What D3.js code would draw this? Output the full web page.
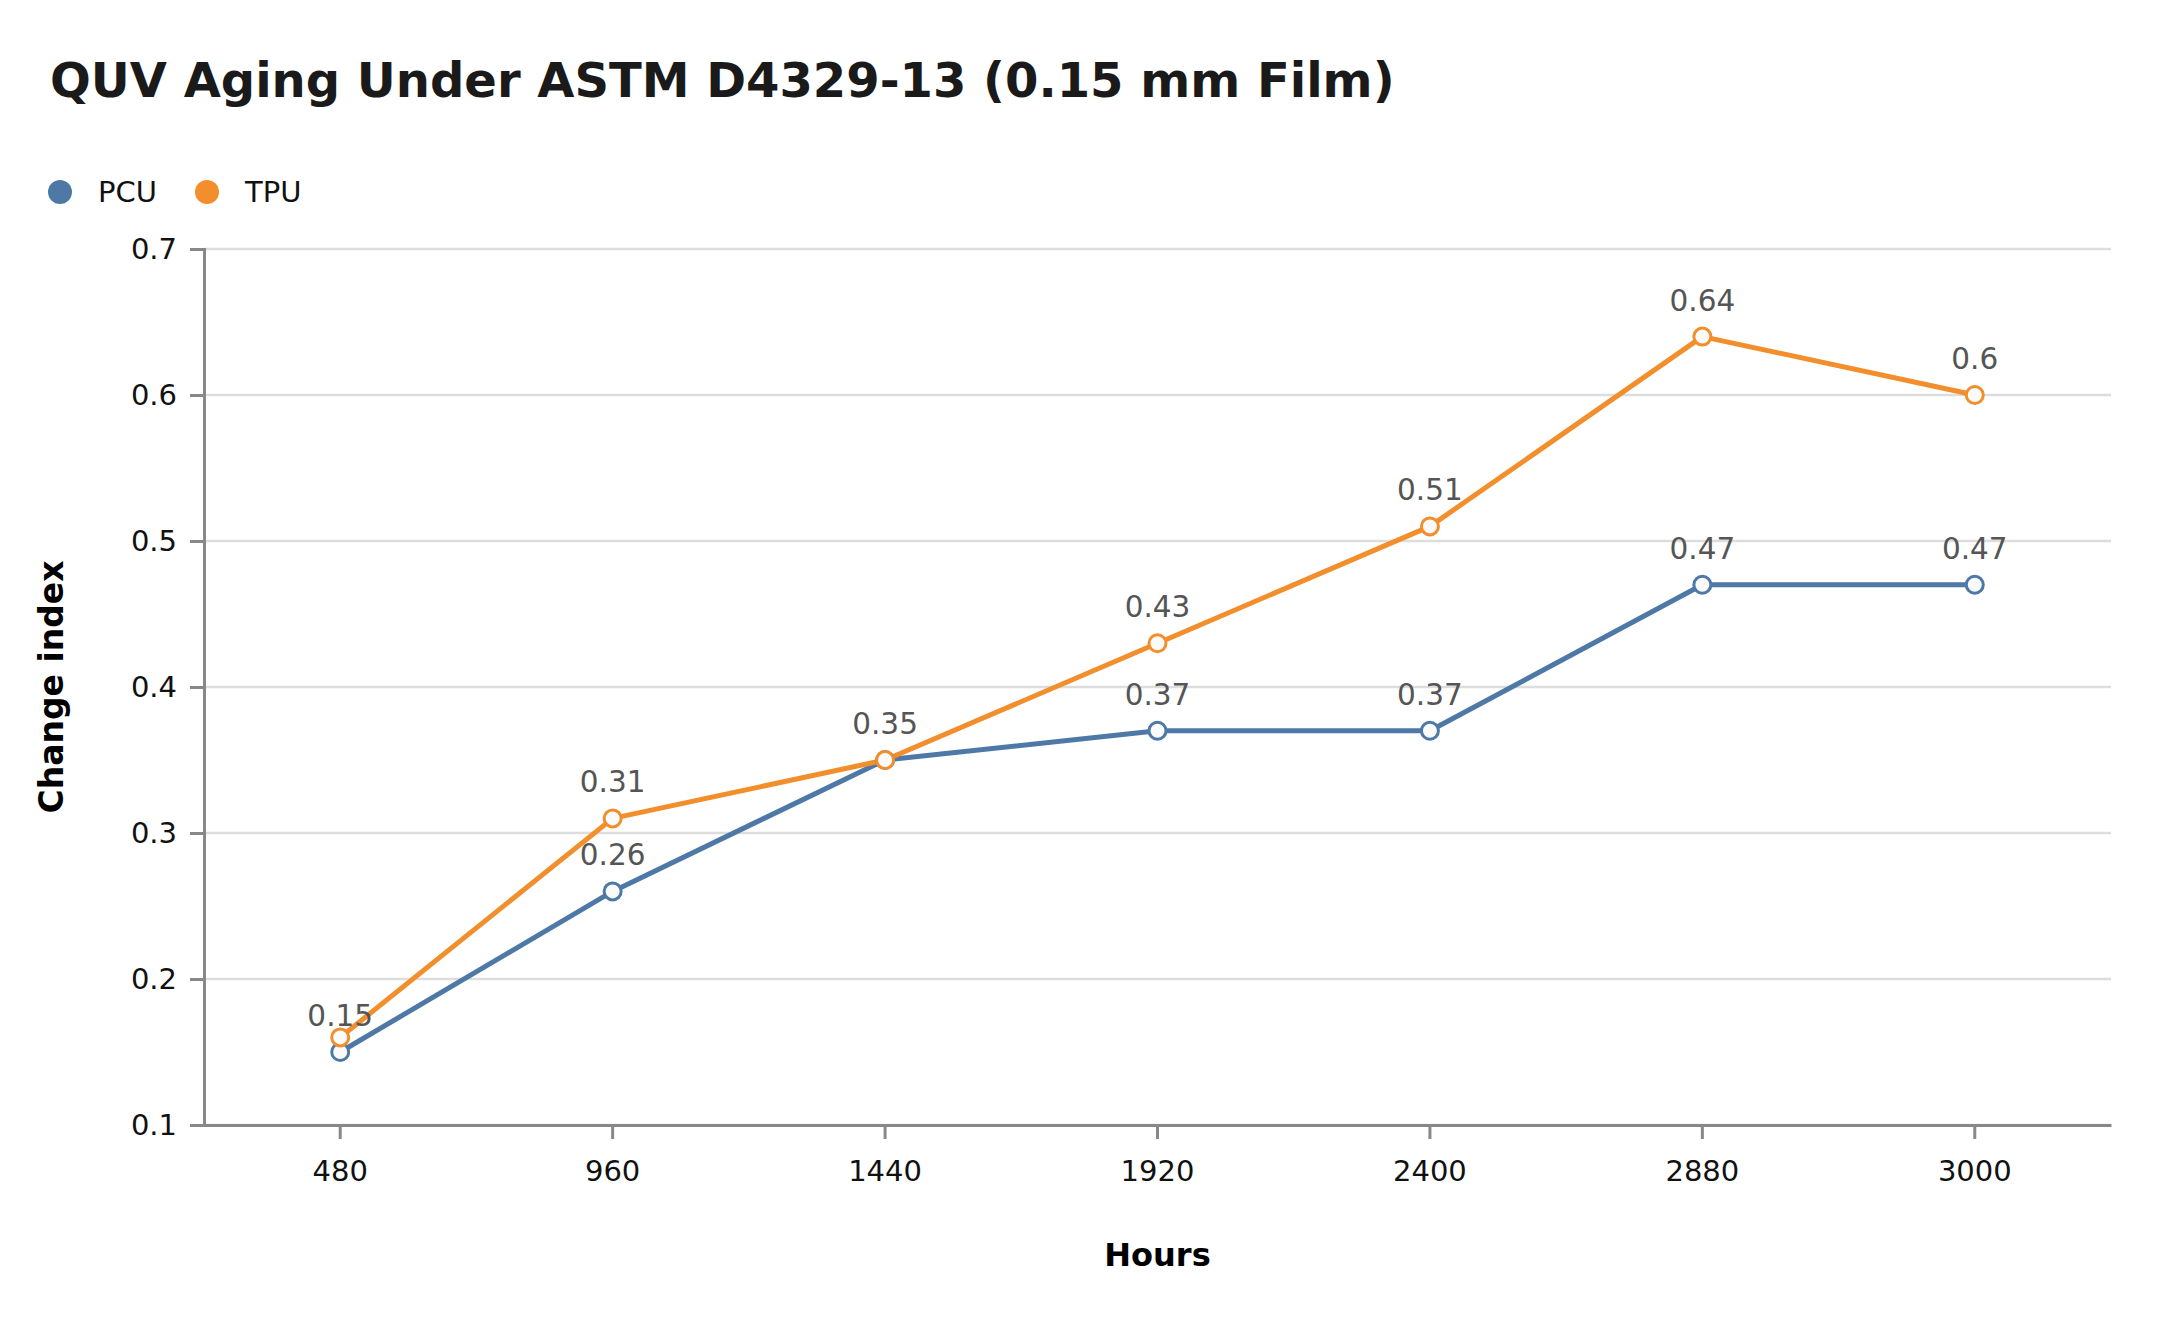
<!DOCTYPE html>
<html>
<head>
<meta charset="utf-8">
<script src="https://cdn.jsdelivr.net/npm/d3@7"></script>
<style>
  html, body { margin: 0; padding: 0; background: #fff; }
  svg { display: block; font-family: "DejaVu Sans", sans-serif; }
</style>
</head>
<body>
<svg id="chart" width="2160" height="1320"></svg>
<script>
// ---- data ----
const hours = ["480", "960", "1440", "1920", "2400", "2880", "3000"];
const pcu = [0.15, 0.26, 0.35, 0.37, 0.37, 0.47, 0.47];
const tpu = [0.16, 0.31, 0.35, 0.43, 0.51, 0.64, 0.60];
const yTicks = [0.1, 0.2, 0.3, 0.4, 0.5, 0.6, 0.7];
const seriesNames = ["PCU", "TPU"];
const seriesColors = ["#4e79a7", "#f28e2b"];
const titleText = "QUV Aging Under ASTM D4329-13 (0.15 mm Film)";
const xTitle = "Hours";
const yTitle = "Change index";

(function () {
const series = [
  { name: seriesNames[0], color: seriesColors[0], values: pcu },
  { name: seriesNames[1], color: seriesColors[1], values: tpu }
];

const svg = d3.select("#chart");
const pLeft = 204, pRight = 2111, pTop = 249, pBottom = 1125;

const x = d3.scaleBand().domain(hours).range([pLeft, pRight]).padding(0);
const y = d3.scaleLinear().domain([0.1, 0.7]).range([pBottom, pTop]);
const cx = h => x(h) + x.bandwidth() / 2;

// title
svg.append("text")
  .attr("x", 50).attr("y", 97)
  .attr("font-size", 48).attr("font-weight", "bold")
  .attr("fill", "#1a1a1a")
  .text(titleText);

// legend
const legX = [60, 207];
series.forEach((s, i) => {
  svg.append("circle").attr("cx", legX[i]).attr("cy", 192).attr("r", 12).attr("fill", s.color);
  svg.append("text").attr("x", legX[i] + 38).attr("y", 202)
    .attr("font-size", 29).attr("fill", "#111").text(s.name);
});

// grid
svg.append("g")
  .selectAll("line").data(yTicks).join("line")
  .attr("x1", pLeft).attr("x2", pRight)
  .attr("y1", d => y(d)).attr("y2", d => y(d))
  .attr("stroke", "#dddddd").attr("stroke-width", 2.5);

// y axis
const yAxis = svg.append("g").attr("transform", `translate(${pLeft},0)`)
  .call(d3.axisLeft(y).tickValues(yTicks).tickSize(14).tickPadding(13).tickFormat(d3.format("~g")));
yAxis.select(".domain").attr("stroke", "#888").attr("stroke-width", 3);
yAxis.selectAll(".tick line").attr("stroke", "#888").attr("stroke-width", 3);
yAxis.selectAll(".tick text").attr("font-size", 29).attr("fill", "#111")
  .attr("font-family", "DejaVu Sans, sans-serif");

// x axis
const xAxis = svg.append("g").attr("transform", `translate(0,${pBottom})`)
  .call(d3.axisBottom(x).tickSize(14).tickPadding(21).tickSizeOuter(0));
xAxis.select(".domain").attr("stroke", "#888").attr("stroke-width", 3);
xAxis.selectAll(".tick line").attr("stroke", "#888").attr("stroke-width", 3);
xAxis.selectAll(".tick text").attr("font-size", 29).attr("fill", "#111")
  .attr("font-family", "DejaVu Sans, sans-serif");

// axis titles
svg.append("text")
  .attr("x", (pLeft + pRight) / 2).attr("y", 1266)
  .attr("text-anchor", "middle").attr("font-size", 32).attr("font-weight", "bold")
  .attr("fill", "#000").text(xTitle);
svg.append("text")
  .attr("transform", `translate(63,${(pTop + pBottom) / 2}) rotate(-90)`)
  .attr("text-anchor", "middle").attr("font-size", 33).attr("font-weight", "bold")
  .attr("fill", "#000").text(yTitle);

// lines
const line = d3.line().x((d, i) => cx(hours[i])).y(d => y(d));
series.forEach(s => {
  svg.append("path").datum(s.values)
    .attr("d", line).attr("fill", "none")
    .attr("stroke", s.color).attr("stroke-width", 5)
    .attr("stroke-linejoin", "round").attr("stroke-linecap", "round");
});

// markers
series.forEach(s => {
  svg.append("g").selectAll("circle").data(s.values).join("circle")
    .attr("cx", (d, i) => cx(hours[i])).attr("cy", d => y(d))
    .attr("r", 8.5).attr("fill", "#fafafa")
    .attr("stroke", s.color).attr("stroke-width", 3);
});

// data labels with collision removal
const labelG = svg.append("g");
const placed = [];
series.forEach(s => {
  s.values.forEach((v, i) => {
    const t = labelG.append("text")
      .attr("x", cx(hours[i])).attr("y", y(v) - 26)
      .attr("text-anchor", "middle").attr("font-size", 29.5)
      .attr("fill", "#555").text(d3.format("~g")(v));
    const b = t.node().getBBox();
    const hit = placed.some(p => !(b.x + b.width < p.x || p.x + p.width < b.x || b.y + b.height < p.y || p.y + p.height < b.y));
    if (hit) t.remove(); else placed.push(b);
  });
});
})();
</script>
</body>
</html>
